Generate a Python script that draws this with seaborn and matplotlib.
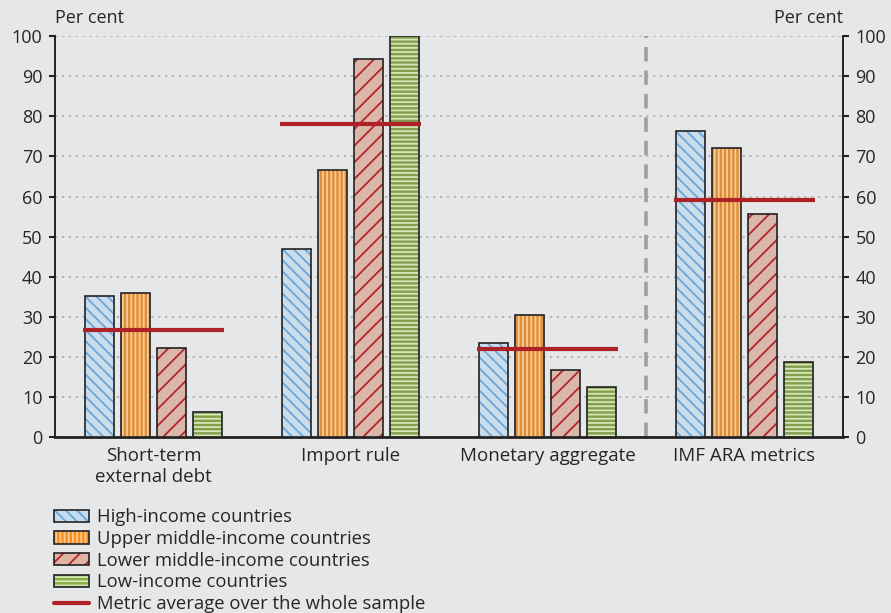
import numpy as np
import pandas as pd
import seaborn as sns
import matplotlib.pyplot as plt
from matplotlib.patches import Rectangle, Patch
from matplotlib.lines import Line2D
from matplotlib.legend_handler import HandlerTuple

# data
metrics = ["Short-term\nexternal debt", "Import rule", "Monetary aggregate", "IMF ARA metrics"]
groups = ["High-income countries", "Upper middle-income countries",
          "Lower middle-income countries", "Low-income countries"]
high_income = [35.2, 46.9, 23.4, 76.3]
upper_middle = [35.9, 66.6, 30.4, 72.1]
lower_middle = [22.2, 94.3, 16.7, 55.6]
low_income = [6.2, 100.0, 12.5, 18.7]
sample_avg = [26.7, 78.1, 21.9, 59.1]
avg_label = "Metric average over the whole sample"

# long-form table for seaborn
values = [high_income, upper_middle, lower_middle, low_income]
df = pd.DataFrame({
    "metric": np.repeat([metrics], 4, axis=0).ravel(),
    "group": np.repeat(groups, len(metrics)),
    "value": np.concatenate(values),
})

bg = "#E6E7E9"
face_cols = ["#C6DCF0", "#F7901E", "#E2B3A2", "#86AC43"]
hatch_cols = ["#6AA6D8", "#FDC994", "#B5252A", "#D6E6B4"]
hatches = ["\\\\\\", "||||", "//", "----"]

sns.set_style("white")
plt.rcParams["font.family"] = ["Open Sans", "DejaVu Sans"]
plt.rcParams["hatch.linewidth"] = 1.3

fig = plt.figure(figsize=(8.91, 6.13), dpi=100, facecolor=bg)
ax = fig.add_axes([0.0617, 0.287, 0.8845, 0.654])
ax.set_facecolor(bg)

sns.barplot(data=df, x="metric", y="value", hue="group", order=metrics,
            hue_order=groups, palette=face_cols, width=0.73, gap=0.2,
            linewidth=0, legend=False, ax=ax, zorder=3)

# hatch each series, then outline with a black edge
for cont, hc, h in zip(ax.containers, hatch_cols, hatches):
    for bar in cont:
        bar.set_hatch(h)
        bar.set_edgecolor(hc)
        bar.set_linewidth(0)
        ax.add_patch(Rectangle(bar.get_xy(), bar.get_width(), bar.get_height(),
                               fill=False, edgecolor="#222222", lw=1.2, zorder=4))

# sample averages
xpos = np.arange(len(metrics))
ax.hlines(sample_avg, xpos - 0.36, xpos + 0.36, color="#AE2126", lw=3, zorder=5)

# dashed separator before the IMF metrics
ax.axvline(2.5, color="#9D9FA2", lw=2.6, ls=(0, (4, 2.5)), zorder=2)

ax.set_xlim(-0.5, 3.5)
ax.set_ylim(0, 100)
ax.set_yticks(range(0, 101, 10))
ax.yaxis.grid(True, color="#A8A9AB", ls=(0, (1.5, 3)), lw=1.1, zorder=1)
ax.tick_params(axis="y", labelsize=13, length=4, width=1.5, color="#222222",
               left=True, right=True, labelleft=True, labelright=True, pad=5)
ax.set_xticks(xpos)
ax.set_xticklabels(metrics, fontsize=13.5)
ax.tick_params(axis="x", length=0, pad=7)
ax.set_xticks([0.5, 1.5, 2.5], minor=True)
ax.tick_params(axis="x", which="minor", length=5, width=1.5, color="#222222")
ax.set_xlabel("")
ax.set_ylabel("")

for s in ["left", "right", "bottom"]:
    ax.spines[s].set_visible(True)
    ax.spines[s].set_color("#222222")
ax.spines["left"].set_linewidth(1.4)
ax.spines["right"].set_linewidth(1.4)
ax.spines["bottom"].set_linewidth(2)
ax.spines["top"].set_visible(False)

ax.text(0, 1.022, "Per cent", transform=ax.transAxes, fontsize=13, ha="left", va="bottom")
ax.text(1, 1.022, "Per cent", transform=ax.transAxes, fontsize=13, ha="right", va="bottom")

# legend
handles = []
for fc, hc, h in zip(face_cols, hatch_cols, hatches):
    handles.append((Patch(facecolor=fc, edgecolor=hc, hatch=h, lw=0),
                    Patch(fill=False, edgecolor="#222222", lw=1.2)))
handles.append(Line2D([], [], color="#AE2126", lw=3))
fig.legend(handles, groups + [avg_label], loc="upper left",
           bbox_to_anchor=(0.061, 0.171), frameon=False, fontsize=13.3,
           handlelength=1.9, handleheight=0.65, handletextpad=0.4, labelspacing=0.2,
           borderaxespad=0, borderpad=0,
           handler_map={tuple: HandlerTuple(ndivide=1, pad=0)})

fig.savefig("out.png", dpi=100, facecolor=bg)
